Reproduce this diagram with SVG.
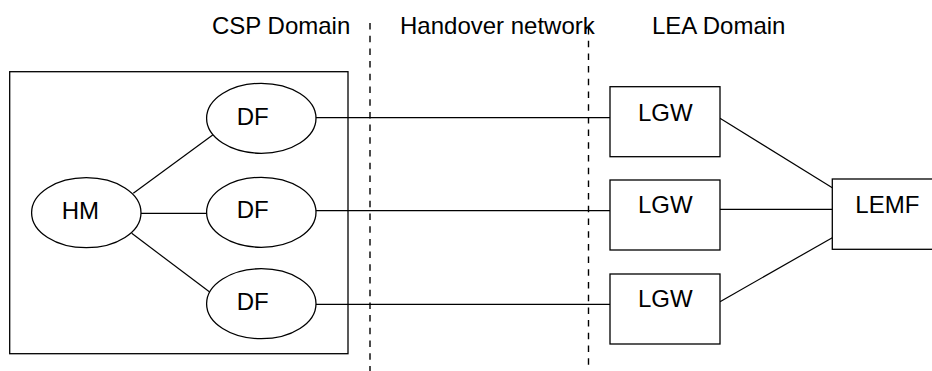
<svg xmlns="http://www.w3.org/2000/svg" width="932" height="371" viewBox="0 0 932 371">
<style>
.s{fill:#fff;stroke:#000;stroke-width:1.3}
.l{stroke:#000;stroke-width:1.2;fill:none}
.d{stroke:#000;stroke-width:1.4;stroke-dasharray:6.5,6.2;fill:none}
text{font-family:"Liberation Sans",Arial,sans-serif;font-size:24px;fill:#000}
</style>
<rect width="932" height="371" fill="#fff"/>
<g id="labels">
<text x="212" y="34">CSP Domain</text>
<text x="400" y="34">Handover network</text>
<text x="652" y="34">LEA Domain</text>
</g>
<g id="boundaries">
<line class="d" x1="370" y1="23" x2="370" y2="371"/>
<line class="d" x1="588.5" y1="28" x2="588.5" y2="371"/>
</g>
<g id="csp">
<rect class="s" x="9.7" y="71.7" width="338.3" height="282"/>
</g>
<g id="connectors">
<line class="l" x1="133.3" y1="193.3" x2="212.7" y2="135"/>
<line class="l" x1="141" y1="213.3" x2="206.7" y2="213.3"/>
<line class="l" x1="131.7" y1="233.3" x2="210" y2="292.3"/>
<line class="l" x1="316" y1="117.7" x2="610" y2="117.7"/>
<line class="l" x1="316" y1="210.7" x2="610" y2="210.7"/>
<line class="l" x1="316" y1="304.3" x2="610" y2="304.3"/>
<line class="l" x1="720" y1="118.3" x2="832.3" y2="187.7"/>
<line class="l" x1="720" y1="209.3" x2="832.3" y2="209.3"/>
<line class="l" x1="720" y1="301.7" x2="832.3" y2="237.7"/>
</g>
<g id="hm">
<ellipse class="s" cx="86.3" cy="212.7" rx="54.7" ry="35"/>
<text x="61.7" y="219">HM</text>
</g>
<g id="df1">
<ellipse class="s" cx="261.3" cy="118.3" rx="54.7" ry="35"/>
<text x="236.7" y="125">DF</text>
</g>
<g id="df2">
<ellipse class="s" cx="261.3" cy="212.3" rx="54.7" ry="35"/>
<text x="236.7" y="218.3">DF</text>
</g>
<g id="df3">
<ellipse class="s" cx="261.3" cy="303.7" rx="54.7" ry="35"/>
<text x="236.7" y="310">DF</text>
</g>
<g id="lgw1">
<rect class="s" x="610" y="86.7" width="110" height="70"/>
<text x="638" y="120.7">LGW</text>
</g>
<g id="lgw2">
<rect class="s" x="610" y="180" width="110" height="70"/>
<text x="638" y="213.3">LGW</text>
</g>
<g id="lgw3">
<rect class="s" x="610" y="274" width="110" height="70"/>
<text x="638" y="307.3">LGW</text>
</g>
<g id="lemf">
<rect class="s" x="832.3" y="179" width="110" height="70.3"/>
<text x="855.3" y="213.3">LEMF</text>
</g>
</svg>
